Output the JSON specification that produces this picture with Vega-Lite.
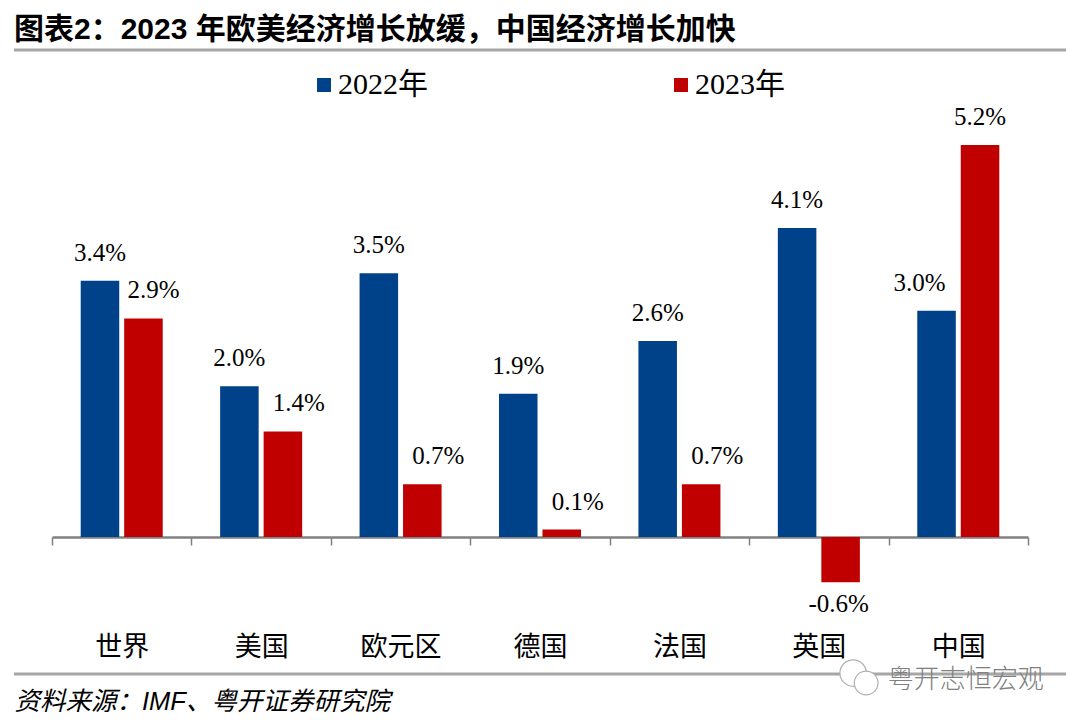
{
"$schema":"https://vega.github.io/schema/vega-lite/v6.json",
"width":976,"height":519,
"autosize":"none",
"padding":{"left":52,"top":101,"right":52,"bottom":106},
"background":"white",
"title":{"text":"图表2：2023 年欧美经济增长放缓，中国经济增长加快","anchor":"start","frame":"group","dx":-38,"offset":4,"font":"Liberation Sans, Noto Sans CJK SC","fontSize":30,"fontWeight":"bold","color":"#000000"},
"config":{"view":{"stroke":null}},
"datasets":{
"bars":[
{"region":"世界","year":"2022年","v":3.4,"label":"3.4%","shift":"none"},
{"region":"世界","year":"2023年","v":2.9,"label":"2.9%","shift":"small"},
{"region":"美国","year":"2022年","v":2.0,"label":"2.0%","shift":"none"},
{"region":"美国","year":"2023年","v":1.4,"label":"1.4%","shift":"right"},
{"region":"欧元区","year":"2022年","v":3.5,"label":"3.5%","shift":"none"},
{"region":"欧元区","year":"2023年","v":0.7,"label":"0.7%","shift":"right"},
{"region":"德国","year":"2022年","v":1.9,"label":"1.9%","shift":"none"},
{"region":"德国","year":"2023年","v":0.1,"label":"0.1%","shift":"right"},
{"region":"法国","year":"2022年","v":2.6,"label":"2.6%","shift":"none"},
{"region":"法国","year":"2023年","v":0.7,"label":"0.7%","shift":"right"},
{"region":"英国","year":"2022年","v":4.1,"label":"4.1%","shift":"none"},
{"region":"英国","year":"2023年","v":-0.6,"label":"-0.6%","shift":"neg"},
{"region":"中国","year":"2022年","v":3.0,"label":"3.0%","shift":"left"},
{"region":"中国","year":"2023年","v":5.2,"label":"5.2%","shift":"none"}
],
"rules":[{"level":6.459},{"level":-1.817}],
"mark":[{"region":"英国","level":-1.897,"name":"粤开志恒宏观"}],
"bubble1":[{"region":"英国","level":-1.804}],
"bubble2":[{"region":"英国","level":-1.936}]
},
"encoding":{
  "x":{"field":"region","type":"nominal","sort":["世界","美国","欧元区","德国","法国","英国","中国"],
   "scale":{"paddingInner":0,"paddingOuter":0},
   "axis":{"orient":"bottom","offset":-83,"title":"资料来源：IMF、粤开证券研究院","titleFont":"Liberation Sans, Noto Sans CJK SC","titleFontSize":25.5,"titleFontStyle":"italic","titleFontWeight":"normal","titleColor":"#000000","titleX":-38,"titleY":164,"titleAlign":"left","titleAnchor":"start","titleBaseline":"middle",
    "labelAngle":0,"labelFont":"Liberation Serif, Noto Sans CJK SC","labelFontSize":27,"labelColor":"#000000","labelPadding":89,"labelBaseline":"top",
    "tickBand":"extent","tickSize":8,"tickColor":"#808080","tickWidth":1.5,"domainColor":"#808080","domainWidth":2.5,"grid":false}},
  "y":{"field":"v","type":"quantitative","scale":{"domain":[-1.1,5.783],"nice":false,"zero":false},"axis":null}
},
"layer":[
{"data":{"name":"rules"},"mark":{"type":"rule","color":"#A6A6A6","strokeWidth":3},
 "encoding":{"y":{"field":"level","type":"quantitative"},"x":{"value":-38},"x2":{"value":1014}}},
{"data":{"name":"bars"},"mark":{"type":"bar"},
 "encoding":{
  "xOffset":{"field":"year","type":"nominal","scale":{"paddingInner":0.114,"paddingOuter":0.66}},
  "y2":{"datum":0},
  "color":{"field":"year","type":"nominal","scale":{"domain":["2022年","2023年"],"range":["#00428A","#C00000"]},
   "legend":{"title":null,"orient":"none","legendX":257,"legendY":-31,"direction":"horizontal","symbolType":"square","symbolSize":196,"symbolStrokeWidth":0,"labelFont":"Liberation Serif, Noto Sans CJK SC","labelFontSize":30,"labelColor":"#000000","columnPadding":238,"labelOffset":-1}}
 }},
{"data":{"name":"bars"},"transform":[{"filter":"datum.shift=='none'"}],"mark":{"type":"text","font":"Liberation Serif","fontSize":25,"baseline":"bottom","dy":-15,"color":"#000000"},
 "encoding":{"xOffset":{"field":"year","type":"nominal"},"text":{"field":"label"}}},
{"data":{"name":"bars"},"transform":[{"filter":"datum.shift=='right'"}],"mark":{"type":"text","font":"Liberation Serif","fontSize":25,"baseline":"bottom","dy":-15,"dx":16,"color":"#000000"},
 "encoding":{"xOffset":{"field":"year","type":"nominal"},"text":{"field":"label"}}},
{"data":{"name":"bars"},"transform":[{"filter":"datum.shift=='small'"}],"mark":{"type":"text","font":"Liberation Serif","fontSize":25,"baseline":"bottom","dy":-15,"dx":10,"color":"#000000"},
 "encoding":{"xOffset":{"field":"year","type":"nominal"},"text":{"field":"label"}}},
{"data":{"name":"bars"},"transform":[{"filter":"datum.shift=='left'"}],"mark":{"type":"text","font":"Liberation Serif","fontSize":25,"baseline":"bottom","dy":-15,"dx":-17,"color":"#000000"},
 "encoding":{"xOffset":{"field":"year","type":"nominal"},"text":{"field":"label"}}},
{"data":{"name":"bars"},"transform":[{"filter":"datum.shift=='neg'"}],"mark":{"type":"text","font":"Liberation Serif","fontSize":25,"baseline":"top","dy":10,"dx":-2,"color":"#000000"},
 "encoding":{"xOffset":{"field":"year","type":"nominal"},"text":{"field":"label"}}},
{"data":{"name":"mark"},"mark":{"type":"text","font":"Noto Sans CJK SC","fontSize":26,"fontWeight":300,"dx":147,"color":"#808080","baseline":"middle"},
 "encoding":{"y":{"field":"level","type":"quantitative"},"text":{"field":"name"}}},
{"data":{"name":"bubble1"},"mark":{"type":"point","shape":"circle","filled":true,"fill":"white","stroke":"#B0B0B0","strokeWidth":1.2,"opacity":1,"size":700},
 "encoding":{"y":{"field":"level","type":"quantitative"},"xOffset":{"value":104}}},
{"data":{"name":"bubble2"},"mark":{"type":"point","shape":"circle","filled":true,"fill":"white","stroke":"#B0B0B0","strokeWidth":1.2,"opacity":1,"size":560},
 "encoding":{"y":{"field":"level","type":"quantitative"},"xOffset":{"value":117}}}
]
}
